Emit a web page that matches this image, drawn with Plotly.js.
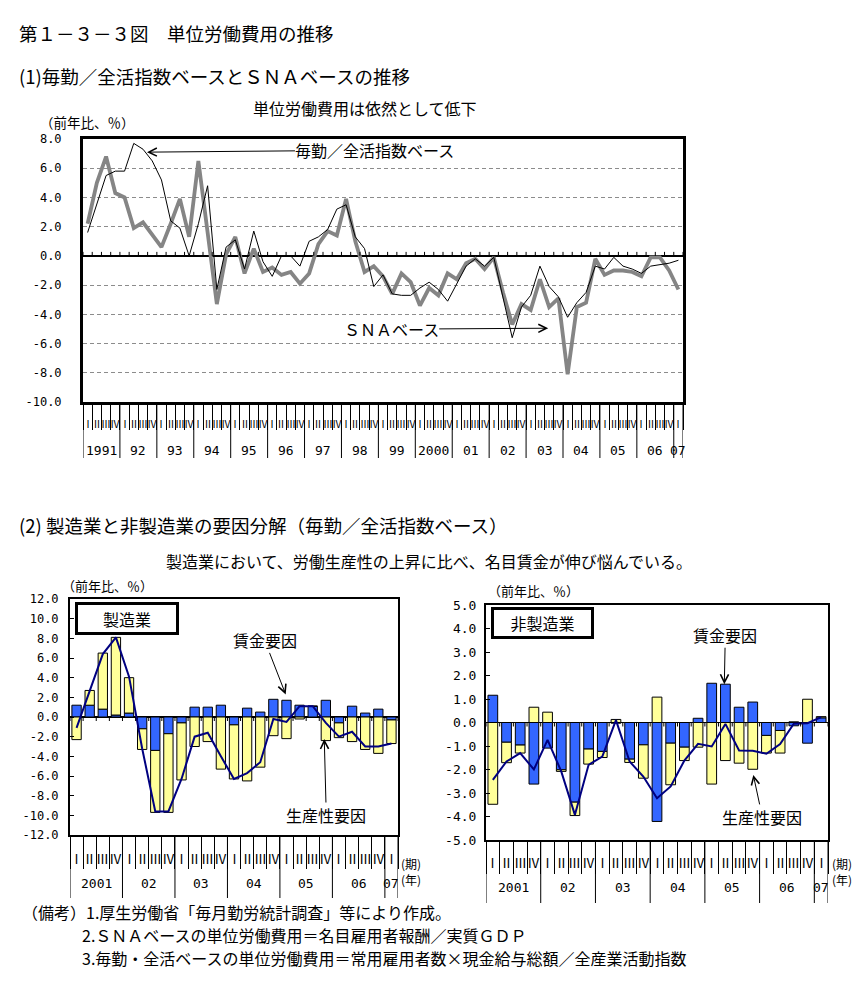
<!DOCTYPE html>
<html><head><meta charset="utf-8">
<script src="https://cdn.plot.ly/plotly-3.0.1.min.js"></script>
<style>html,body{margin:0;padding:0;background:#fff}#chart{width:866px;height:982px}</style>
</head><body><div id="chart"></div>
<script>
// ---------- data ----------
const quarterNames = ['Ⅰ','Ⅱ','Ⅲ','Ⅳ'];
const topYears = ['1991','92','93','94','95','96','97','98','99','2000','01','02','03','04','05','06','07'];
// 毎勤／全活指数ベース (thin black), 1991Q1 - 2007Q1
const maikinBase = [1.6,3.5,5.5,5.8,5.8,7.7,7.3,6.5,5.2,2.4,1.9,0.0,2.2,4.8,-2.3,0.6,1.1,-0.9,1.7,-0.4,
  -1.4,0.0,0.0,-0.7,1.0,1.3,1.8,3.2,3.5,1.3,0.5,-2.1,-1.3,-2.6,-2.7,-2.7,-2.2,-1.8,-2.3,-3.1,
  -1.9,-0.7,-0.2,-0.7,-0.1,-2.8,-5.6,-3.5,-2.7,-0.7,-2.1,-2.8,-4.2,-3.2,-2.5,-0.7,-0.9,-0.1,-0.7,-0.9,
  -1.2,-0.7,-0.6,-0.5,-0.3];
// ＳＮＡベース (thick gray)
const snaBase = [2.2,5.0,6.8,4.3,4.0,1.9,2.3,1.5,0.6,2.2,3.9,1.3,6.5,1.6,-3.3,0.1,1.3,-1.2,0.5,-1.1,
  -0.8,-1.3,-1.1,-1.9,-1.2,0.8,1.7,1.4,3.9,1.0,-1.1,-0.7,-1.4,-2.6,-1.2,-1.8,-3.4,-2.2,-2.7,-1.2,
  -1.6,-0.5,-0.2,-0.9,-0.1,-2.5,-4.7,-3.3,-3.7,-1.6,-3.5,-2.9,-8.1,-3.5,-3.2,-0.2,-1.3,-1.0,-1.0,-1.1,
  -1.4,-0.1,-0.1,-1.0,-2.3];
const topYTicks = [8,6,4,2,0,-2,-4,-6,-8,-10];

const botYears = ['2001','02','03','04','05','06','07'];
// 製造業 2001Q1 - 2007Q1
const mfgWage  = [1.2,1.2,0.8,0.2,0.4,-1.2,-3.4,-1.7,-0.6,1.0,1.0,1.2,-0.8,0.9,0.5,1.8,1.7,1.2,1.1,1.7,-0.6,1.1,0.4,0.8,-0.3];
const mfgProd  = [-2.3,1.5,5.7,7.9,3.6,-2.1,-6.3,-8.0,-5.8,-3.0,-2.5,-5.3,-5.5,-6.5,-5.1,-1.9,-2.2,-0.2,0.0,-2.4,-1.5,-2.5,-3.3,-3.7,-2.4];
const mfgTotal = [-1.1,2.7,6.4,8.1,4.1,-3.2,-9.6,-9.6,-6.3,-2.0,-1.6,-4.0,-6.3,-5.7,-4.6,-0.2,-0.5,1.1,1.1,-0.6,-2.0,-1.5,-3.0,-3.0,-2.7];
const leftYTicks = [12,10,8,6,4,2,0,-2,-4,-6,-8,-10,-12];
// 非製造業
const nonWage  = [1.16,-0.84,-0.96,-2.62,-1.09,-2.01,-3.39,-1.13,-1.23,-0.03,-1.56,-0.95,-4.21,-0.88,-1.05,0.18,1.67,1.63,0.65,0.87,-0.55,-0.34,-0.14,-0.88,0.2];
const nonProd  = [-3.48,-0.87,-0.34,0.65,0.44,-0.07,-0.57,-0.64,-0.26,0.13,-0.14,-1.42,1.08,-1.77,-0.57,-1.05,-2.62,-1.62,-1.73,-1.99,-0.75,-0.96,0.03,0.99,0.05];
const nonTotal = [-2.44,-1.66,-1.3,-2.0,-0.74,-2.08,-3.93,-1.8,-1.45,0.1,-1.66,-2.3,-3.22,-2.72,-1.62,-0.91,-1.02,-0.06,-1.19,-1.2,-1.33,-0.92,-0.05,-0.03,0.23];
const rightYTicks = [5,4,3,2,1,0,-1,-2,-3,-4,-5];

const noteLines = [
  '（備考）1.厚生労働省「毎月勤労統計調査」等により作成。',
  '2.ＳＮＡベースの単位労働費用＝名目雇用者報酬／実質ＧＤＰ',
  '3.毎勤・全活ベースの単位労働費用＝常用雇用者数×現金給与総額／全産業活動指数'
];

// ---------- helpers ----------
const W = 866, H = 982;
const fx = p => p / W;
const fy = p => 1 - p / H;
const JP = 'Noto Sans CJK JP';
const MONO = 'DejaVu Sans Mono';
const nTop = maikinBase.length;
const nBot = mfgWage.length;
const xTop = Array.from({length:nTop}, (_, i) => i);
const xBot = Array.from({length:nBot}, (_, i) => i);
const bounds = n => Array.from({length:n+1}, (_, i) => i - 0.5);
const fmt = v => v.toFixed(1);

const annotations = [];
const shapes = [];

function axisLabels(n, years, ax, qShift, yShift, qSize, ySize) {
  for (let i = 0; i < n; i++) {
    annotations.push({xref:ax.x, yref:ax.y + ' domain', x:i, y:0, yanchor:'middle', yshift:qShift,
      text:quarterNames[i % 4], showarrow:false, font:{family:JP, size:qSize}});
  }
  years.forEach((yr, k) => {
    const s = 4*k, e = Math.min(4*k + 3, n - 1);
    annotations.push({xref:ax.x, yref:ax.y + ' domain', x:(s + e)/2, y:0, yanchor:'middle', yshift:yShift,
      text:yr, showarrow:false, font:{family:MONO, size:ySize}});
  });
}
function yearLines(n, ax, len) {
  const bs = [];
  for (let k = 0; 4*k < n; k++) bs.push(4*k - 0.5);
  bs.push(n - 0.5);
  bs.forEach(b => shapes.push({type:'line', xref:ax.x, yref:ax.y + ' domain', x0:b, x1:b,
    ysizemode:'pixel', yanchor:0, y0:0, y1:-len, line:{color:'#000', width:1}}));
}
function zeroTicks(n, ax, len) {
  bounds(n).forEach(b => shapes.push({type:'line', xref:ax.x, yref:ax.y, x0:b, x1:b,
    ysizemode:'pixel', yanchor:0, y0:0, y1:len, line:{color:'#000', width:1}}));
}

// ---------- traces ----------
const barLine = {color:'#000', width:1};
const traces = [
  {x:xTop, y:snaBase, type:'scatter', mode:'lines', line:{color:'#858585', width:3.8}, xaxis:'x', yaxis:'y', name:'ＳＮＡベース'},
  {x:xTop, y:maikinBase, type:'scatter', mode:'lines', line:{color:'#000', width:1}, xaxis:'x', yaxis:'y', name:'毎勤/全活指数ベース'},
  {x:xBot, y:mfgWage, type:'bar', marker:{color:'#3366ff', line:barLine}, xaxis:'x2', yaxis:'y2', name:'賃金要因'},
  {x:xBot, y:mfgProd, type:'bar', marker:{color:'#ffff99', line:barLine}, xaxis:'x2', yaxis:'y2', name:'生産性要因'},
  {x:xBot, y:mfgTotal, type:'scatter', mode:'lines', line:{color:'#000080', width:2}, xaxis:'x2', yaxis:'y2', name:'単位労働費用'},
  {x:xBot, y:nonWage, type:'bar', marker:{color:'#3366ff', line:barLine}, xaxis:'x3', yaxis:'y3', name:'賃金要因'},
  {x:xBot, y:nonProd, type:'bar', marker:{color:'#ffff99', line:barLine}, xaxis:'x3', yaxis:'y3', name:'生産性要因'},
  {x:xBot, y:nonTotal, type:'scatter', mode:'lines', line:{color:'#000080', width:2}, xaxis:'x3', yaxis:'y3', name:'単位労働費用'}
];

// ---------- axes ----------
function xAxis(dom, n, anchor, ticklen, lw) {
  return {domain:dom, range:[-0.5, n - 0.5], anchor, tickmode:'array', tickvals:bounds(n), ticks:'outside',
    ticklen, tickwidth:1, tickcolor:'#000', showticklabels:false, showgrid:false, zeroline:false,
    showline:true, linecolor:'#000', linewidth:lw, mirror:true, fixedrange:true};
}
function yAxis(dom, range, vals, anchor, lw, extra) {
  return Object.assign({domain:dom, range, anchor, tickmode:'array', tickvals:vals, ticktext:vals.map(fmt),
    tickfont:{family:MONO, size:12, color:'#000'}, showline:true, linecolor:'#000', linewidth:lw, mirror:true,
    zeroline:true, zerolinecolor:'#000', zerolinewidth:1.5, showgrid:false, fixedrange:true}, extra);
}

const layout = {
  width:W, height:H, margin:{l:0, r:0, t:0, b:0}, paper_bgcolor:'#fff', plot_bgcolor:'#fff',
  showlegend:false, barmode:'relative', bargap:0.29,
  font:{family:JP, size:13, color:'#000'},
  xaxis:  xAxis([fx(83), fx(683)], nTop, 'y', 25, 3),
  yaxis:  yAxis([fy(402), fy(139)], [-10, 8], topYTicks, 'x', 3,
            {ticks:'', showgrid:true, gridcolor:'#8c8c8c', griddash:'4px,3px', gridwidth:1, ticklabelstandoff:16}),
  xaxis2: xAxis([fx(70), fx(398)], nBot, 'y2', 32, 2),
  yaxis2: yAxis([fy(835), fy(599)], [-12, 12], leftYTicks, 'x2', 2,
            {ticks:'inside', ticklen:4, tickcolor:'#000', ticklabelstandoff:7}),
  xaxis3: xAxis([fx(486), fx(828)], nBot, 'y3', 32, 2),
  yaxis3: yAxis([fy(840), fy(605)], [-5, 5], rightYTicks, 'x3', 2,
            {ticks:'inside', ticklen:4, tickcolor:'#000', ticklabelstandoff:5, tickfont:{family:MONO, size:13, color:'#000'}}),
  annotations, shapes
};

// axis label rows
axisLabels(nTop, topYears, {x:'x', y:'y'}, -21, -48, 10, 13);
axisLabels(nBot, botYears, {x:'x2', y:'y2'}, -23, -48, 13, 13);
axisLabels(nBot, botYears, {x:'x3', y:'y3'}, -22, -47, 13, 13);
yearLines(nTop, {x:'x', y:'y'}, 56);
yearLines(nBot, {x:'x2', y:'y2'}, 63);
yearLines(nBot, {x:'x3', y:'y3'}, 63);
zeroTicks(nTop, {x:'x', y:'y'}, 4);
zeroTicks(nBot, {x:'x2', y:'y2'}, -4);
zeroTicks(nBot, {x:'x3', y:'y3'}, -4);

// texts
function txt(text, px, py, size, anchor) {
  annotations.push({xref:'paper', yref:'paper', x:fx(px), y:fy(py), xanchor:anchor || 'left', yanchor:'middle',
    text, showarrow:false, font:{family:JP, size}});
}
txt('第１－３－３図　単位労働費用の推移', 17, 33, 18.5);
txt('(1)毎勤／全活指数ベースとＳＮＡベースの推移', 17, 76, 18.5);
txt('単位労働費用は依然として低下', 365, 108, 16, 'center');
txt('（前年比、％）', 38, 122, 13.5);
txt('(2) 製造業と非製造業の要因分解（毎勤／全活指数ベース）', 17, 525, 18.5);
txt('製造業において、労働生産性の上昇に比べ、名目賃金が伸び悩んでいる。', 429, 561, 16, 'center');
txt('（前年比、％）', 60, 585, 13);
txt('（前年比、％）', 486, 590, 13);
txt('(期)', 399, 863, 12);
txt('(年)', 399, 879, 12);
txt('(期)', 830, 863, 12);
txt('(年)', 830, 879, 12);

// notes
txt(noteLines[0], 20, 912, 16);
txt(noteLines[1], 80, 935, 16);
txt(noteLines[2], 80, 958, 16);

// boxed panel labels
function box(text, px, py, w, h) {
  annotations.push({xref:'paper', yref:'paper', x:fx(px), y:fy(py), xanchor:'left', yanchor:'top',
    width:w, height:h, text, showarrow:false, bgcolor:'#fff', bordercolor:'#000', borderwidth:3, borderpad:1,
    font:{family:JP, size:16}});
}
box('製造業', 75, 602, 96, 25);
box('非製造業', 491, 607, 95, 24);

// arrow annotations (head in axis units, text offset in pixels)
function arrow(text, xr, yr, hx, hy, ax, ay) {
  annotations.push({xref:xr, yref:yr, x:hx, y:hy, ax, ay, axref:'pixel', ayref:'pixel', text, showarrow:true,
    arrowhead:5, arrowsize:1.6, arrowwidth:1, arrowcolor:'#000', standoff:0, borderpad:0, font:{family:JP, size:16}});
}
arrow('毎勤／全活指数ベース', 'x', 'y', 6.43, 7.1, 228, -2);
arrow('ＳＮＡベース', 'x', 'y', 49.9, -4.95, -157, 1);
arrow('賃金要因', 'x2', 'y2', 15.94, 2.3, -21, -54);
arrow('生産性要因', 'x2', 'y2', 18.88, -2.24, 2, 76);
arrow('賃金要因', 'x3', 'y3', 16.92, 1.63, 1, -49);
arrow('生産性要因', 'x3', 'y3', 19.04, -2.23, 9, 42);

Plotly.newPlot('chart', traces, layout, {staticPlot:true, displayModeBar:false});
</script>
</body></html>
